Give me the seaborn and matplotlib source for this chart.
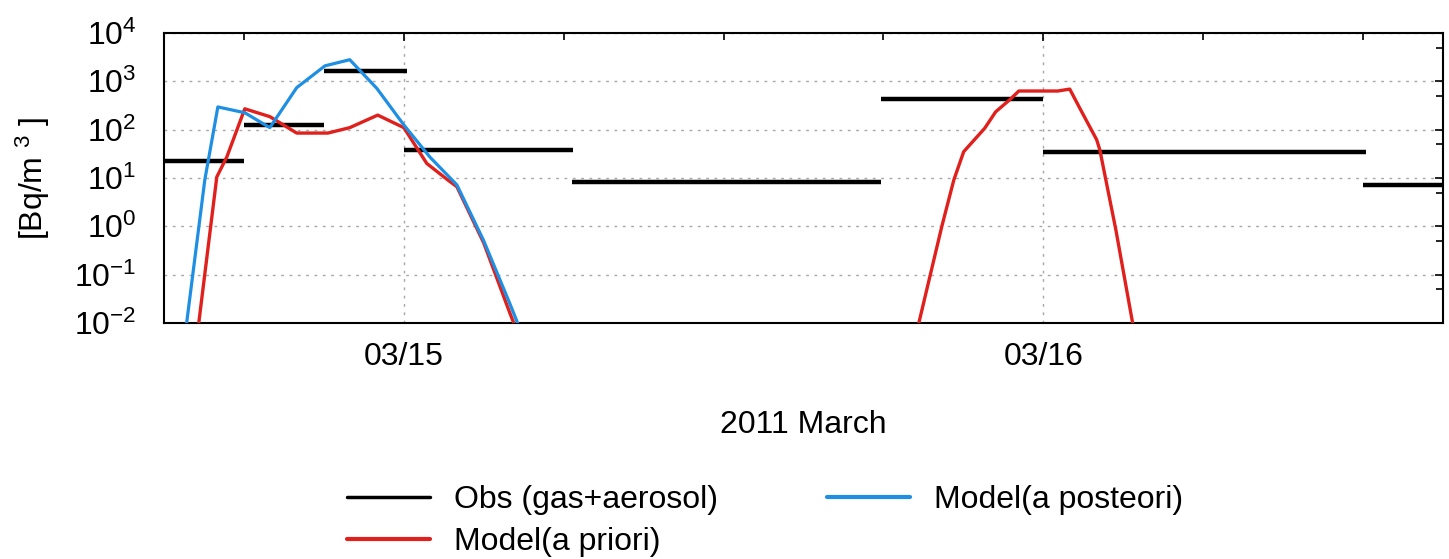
import numpy as np
import pandas as pd
import matplotlib
matplotlib.use("Agg")
import matplotlib.pyplot as plt
import matplotlib.dates as mdates
from matplotlib.ticker import LogLocator, NullFormatter
import seaborn as sns

# ---- data (hours relative to 2011-03-15 00:00 JST, concentrations in Bq/m3) ----
base = pd.Timestamp("2011-03-15 00:00")

obs_start_h = [-9.0, -6.0, -3.0, 0.0, 6.3, 17.9, 24.0, 36.0]
obs_end_h = [-6.0, -3.0, 0.1, 6.35, 17.9, 24.0, 36.1, 39.0]
obs_value = [22.6, 124.0, 1650.0, 38.0, 8.4, 434.0, 35.2, 7.1]

post_h = [-8.29, -7.47, -6.98, -5.97, -5.03, -4.02, -2.96, -2.03, -1.01,
          0.0, 0.98, 1.99, 3.0, 3.98, 4.99]
post_value = [0.0025, 9.1, 295.0, 224.0, 110.0, 740.0, 2090.0, 2800.0, 710.0,
              125.0, 27.0, 7.2, 0.5, 0.025, 0.001]

prior_h = [-7.92, -7.02, -6.64, -5.97, -5.03, -4.02, -2.85, -2.03, -0.98,
           0.0, 0.86, 1.65, 1.99, 3.0, 3.98, 4.99,
           19.14, 20.19, 20.64, 21.01, 21.8, 22.21, 22.74, 23.08,
           24.54, 24.99, 25.4, 26.0, 26.12, 26.72, 27.35, 27.6]
prior_value = [0.001, 10.5, 27.5, 270.0, 186.0, 85.0, 85.0, 110.0, 200.0,
               110.0, 20.0, 9.1, 6.6, 0.45, 0.016, 0.0006,
               0.0037, 1.0, 9.1, 35.0, 107.0, 234.0, 417.0, 630.0,
               630.0, 690.0, 257.0, 62.0, 38.0, 0.85, 0.01, 0.003]

legend_labels = ["Obs (gas+aerosol)", "Model(a priori)", "Model(a posteori)"]

# ---- style ----
sns.set_theme(style="white")
plt.rcParams["font.family"] = ["Liberation Sans", "DejaVu Sans"]
plt.rcParams["mathtext.fontset"] = "custom"
plt.rcParams["mathtext.rm"] = "Liberation Sans"
plt.rcParams["mathtext.default"] = "regular"
plt.rcParams["axes.unicode_minus"] = False
plt.rcParams["text.color"] = "black"
plt.rcParams["axes.labelcolor"] = "black"
plt.rcParams["xtick.color"] = "black"
plt.rcParams["ytick.color"] = "black"

FS = 23
RED = "#e0201c"
BLUE = "#1f8fe3"


def to_time(hours):
    return base + pd.to_timedelta(np.asarray(hours, dtype=float), unit="h")


post_df = pd.DataFrame({"time": to_time(post_h), "value": post_value})
prior_df = pd.DataFrame({"time": to_time(prior_h), "value": prior_value})
prior_df["episode"] = np.where(np.asarray(prior_h) < 12, 0, 1)

fig = plt.figure(figsize=(14.49, 5.59), dpi=100)
ax = fig.add_axes([0.1132, 0.4222, 0.8827, 0.5188])

# observation intervals as horizontal bars
ax.hlines(obs_value, to_time(obs_start_h), to_time(obs_end_h),
          colors="black", linewidth=3.2, zorder=3)

# model curves (prior drawn as two separate episodes)
for _, part in prior_df.groupby("episode"):
    sns.lineplot(data=part, x="time", y="value", ax=ax, color=RED,
                 linewidth=2.4, zorder=4, estimator=None, sort=False)
sns.lineplot(data=post_df, x="time", y="value", ax=ax, color=BLUE,
             linewidth=2.3, zorder=5, estimator=None, sort=False)
if ax.get_legend() is not None:
    ax.get_legend().remove()

ax.set_yscale("log")
ax.set_ylim(1e-2, 1e4)
ax.set_xlim(base - pd.Timedelta(hours=9), base + pd.Timedelta(hours=39))

# axis ticks
ax.xaxis.set_major_locator(mdates.DayLocator())
ax.xaxis.set_major_formatter(mdates.DateFormatter("%m/%d"))
ax.xaxis.set_minor_locator(mdates.HourLocator(byhour=[0, 6, 12, 18]))
ax.yaxis.set_major_locator(LogLocator(base=10, numticks=10))
ax.yaxis.set_minor_locator(LogLocator(base=10, subs=[5.0], numticks=10))
ax.yaxis.set_minor_formatter(NullFormatter())

ax.tick_params(axis="both", which="both", direction="in", top=True, right=True,
               color="black", width=1.2)
ax.tick_params(axis="both", which="major", length=6, labelsize=FS)
ax.tick_params(axis="both", which="minor", length=5)
ax.tick_params(axis="x", which="major", pad=14)
ax.tick_params(axis="y", which="major", pad=20)

# dotted grid: days on x, decades on y
ax.grid(False)
ax.xaxis.grid(True, which="major", linestyle=(0, (2, 4)), color="#a8a8a8", linewidth=1.0)
ax.yaxis.grid(True, which="major", linestyle=(0, (2, 4)), color="#a8a8a8", linewidth=1.0)
ax.set_axisbelow(True)

for s in ax.spines.values():
    s.set_color("black")
    s.set_linewidth(1.5)

ax.set_xlabel("2011 March", fontsize=FS, labelpad=27)
ax.set_ylabel(r"[Bq/m $^{3}$ ]", fontsize=FS, labelpad=16)

# legend below the axes
handles = [
    plt.Line2D([], [], color="black", linewidth=2.5),
    plt.Line2D([], [], color=RED, linewidth=3.0),
    plt.Line2D([], [], color=BLUE, linewidth=3.0),
]
fig.legend(handles, legend_labels, ncol=2, frameon=False, fontsize=FS,
           loc="upper left", bbox_to_anchor=(0.2395, 0.132),
           bbox_transform=fig.transFigure, borderpad=0, borderaxespad=0,
           handlelength=2.6, handletextpad=0.75, columnspacing=3.4,
           labelspacing=0.36)

fig.savefig("out.png", dpi=100)
